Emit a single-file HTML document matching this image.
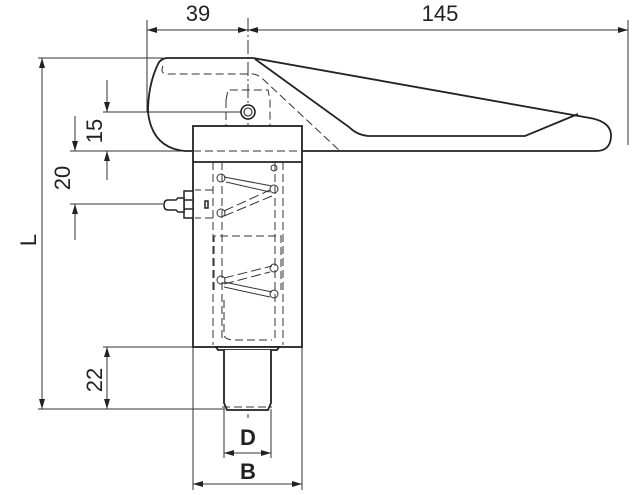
<!DOCTYPE html>
<html><head><style>html,body{margin:0;padding:0;background:#fff}svg{display:block}</style></head>
<body>
<svg width="640" height="495" viewBox="0 0 640 495" xmlns="http://www.w3.org/2000/svg" font-family="Liberation Sans, sans-serif">
<defs>
<marker id="a" viewBox="0 0 10 6" refX="10" refY="3" markerWidth="11" markerHeight="6" orient="auto-start-reverse" markerUnits="userSpaceOnUse"><path d="M0,0L10,3L0,6z" fill="#222"/></marker>
</defs>
<g stroke="#333" stroke-width="1" fill="none">
<line x1="147" y1="20" x2="147" y2="112"/>
<line x1="628" y1="20" x2="628" y2="145"/>
<line x1="248" y1="18" x2="248" y2="418" stroke-dasharray="14 3 2 3"/>
<line x1="38" y1="58" x2="163" y2="58"/>
<line x1="38" y1="409" x2="225" y2="409"/>
<line x1="103" y1="112" x2="248" y2="112"/>
<line x1="70" y1="151" x2="193" y2="151"/>
<line x1="70" y1="204" x2="163" y2="204"/>
<line x1="103" y1="347" x2="193" y2="347"/>
<line x1="193" y1="347" x2="193" y2="490"/>
<line x1="302" y1="347" x2="302" y2="490"/>
<line x1="224" y1="409" x2="224" y2="458"/>
<line x1="271" y1="409" x2="271" y2="458"/>
<line x1="147" y1="30" x2="248" y2="30" marker-start="url(#a)" marker-end="url(#a)"/>
<line x1="248" y1="30" x2="628" y2="30" marker-start="url(#a)" marker-end="url(#a)"/>
<line x1="42" y1="58" x2="42" y2="409" marker-start="url(#a)" marker-end="url(#a)"/>
<line x1="107" y1="80" x2="107" y2="112" marker-end="url(#a)"/>
<line x1="107" y1="180" x2="107" y2="151" marker-end="url(#a)"/>
<line x1="75" y1="116" x2="75" y2="151" marker-end="url(#a)"/>
<line x1="75" y1="240" x2="75" y2="204" marker-end="url(#a)"/>
<line x1="107" y1="347" x2="107" y2="409" marker-start="url(#a)" marker-end="url(#a)"/>
<line x1="224" y1="453" x2="271" y2="453" marker-start="url(#a)" marker-end="url(#a)"/>
<line x1="193" y1="484" x2="302" y2="484" marker-start="url(#a)" marker-end="url(#a)"/>
</g>
<g stroke="#222" stroke-width="1.8" fill="none">
<path d="M168,58 L253,58 L590,118 Q612,122 611,137 Q610,151 596,151 L185,151 Q152,148 148,112 Q148,85 158,64 Q161,58 168,58 Z"/>
<path d="M255,59 L349,127 Q357,135 368,136 L525,136 L578,114"/>
</g>
<g stroke="#333" stroke-width="1" fill="none" stroke-dasharray="8 4">
<path d="M163,66 Q160,73 166,74 L253,74 Q258,74 266,82 L340,151"/>
<path d="M226,100 L228,90 L268,90 L270,100 L270,151"/>
<line x1="226" y1="100" x2="226" y2="151"/>
</g>
<circle cx="248" cy="112" r="7" fill="#fff" stroke="#222" stroke-width="1.6"/>
<circle cx="248" cy="112" r="4" fill="none" stroke="#222" stroke-width="1.1"/>
<g stroke="#222" stroke-width="1.8" fill="#fff">
<rect x="193" y="126" width="109" height="221"/>
<line x1="193" y1="162" x2="302" y2="162"/>
<path d="M216,347 L279,347 L277,350 L218,350 Z"/>
<path d="M224,350 L224,403 L227,410 L268,410 L271,403 L271,350"/>
</g>
<g stroke="#333" stroke-width="1" fill="none" stroke-dasharray="8 4">
<line x1="193" y1="151" x2="302" y2="151"/>
<line x1="213" y1="162" x2="213" y2="345"/>
<line x1="283" y1="162" x2="283" y2="345"/>
<line x1="222" y1="162" x2="222" y2="340"/>
<line x1="275" y1="162" x2="275" y2="340"/>
<path d="M214,290 L214,236 L281,236 L281,290"/>
<path d="M224,300 L224,335 Q225,340 235,340 L272,340"/>
<line x1="222" y1="407" x2="272" y2="407"/>
<path d="M213,190 L195,190 M213,218 L195,218"/>
</g>
<g stroke="#333" stroke-width="1" fill="none">
<circle cx="221" cy="178" r="4"/><circle cx="274" cy="189" r="4"/><circle cx="221" cy="213" r="4"/>
<circle cx="274" cy="168" r="3"/>
<circle cx="274" cy="268" r="4"/><circle cx="221" cy="280" r="4"/><circle cx="274" cy="294" r="4"/>
<path d="M224,177 L272,186 M226,182 L270,192"/>
<path d="M224,211 L270,190 M224,216 L272,196" stroke-dasharray="10 4"/>
<path d="M224,278 L272,266 M224,284 L270,272" stroke-dasharray="10 4"/>
<path d="M224,282 L272,292 M224,287 L270,297"/>
</g>
<g stroke="#222" stroke-width="1.5" fill="#fff">
<path d="M184,191 L193,191 L193,218 L184,218 Z"/>
<line x1="184" y1="200" x2="193" y2="200"/><line x1="184" y1="209" x2="193" y2="209"/>
<path d="M184,198 L178,198 L176,200 L168,200 Q164,200 164,205 Q164,210 168,210 L176,210 L178,212 L184,212 Z"/>
<rect x="205" y="201" width="3" height="7"/>
</g>
<g fill="#222" font-size="22">
<text x="198" y="21" text-anchor="middle">39</text>
<text x="440" y="21" text-anchor="middle">145</text>
<text transform="translate(102,131) rotate(-90)" text-anchor="middle">15</text>
<text transform="translate(70,178) rotate(-90)" text-anchor="middle">20</text>
<text transform="translate(36,240) rotate(-90)" text-anchor="middle">L</text>
<text transform="translate(102,380) rotate(-90)" text-anchor="middle">22</text>
<text x="248" y="445" text-anchor="middle" font-weight="bold">D</text>
<text x="248" y="479" text-anchor="middle" font-weight="bold">B</text>
</g>
</svg>
</body></html>
